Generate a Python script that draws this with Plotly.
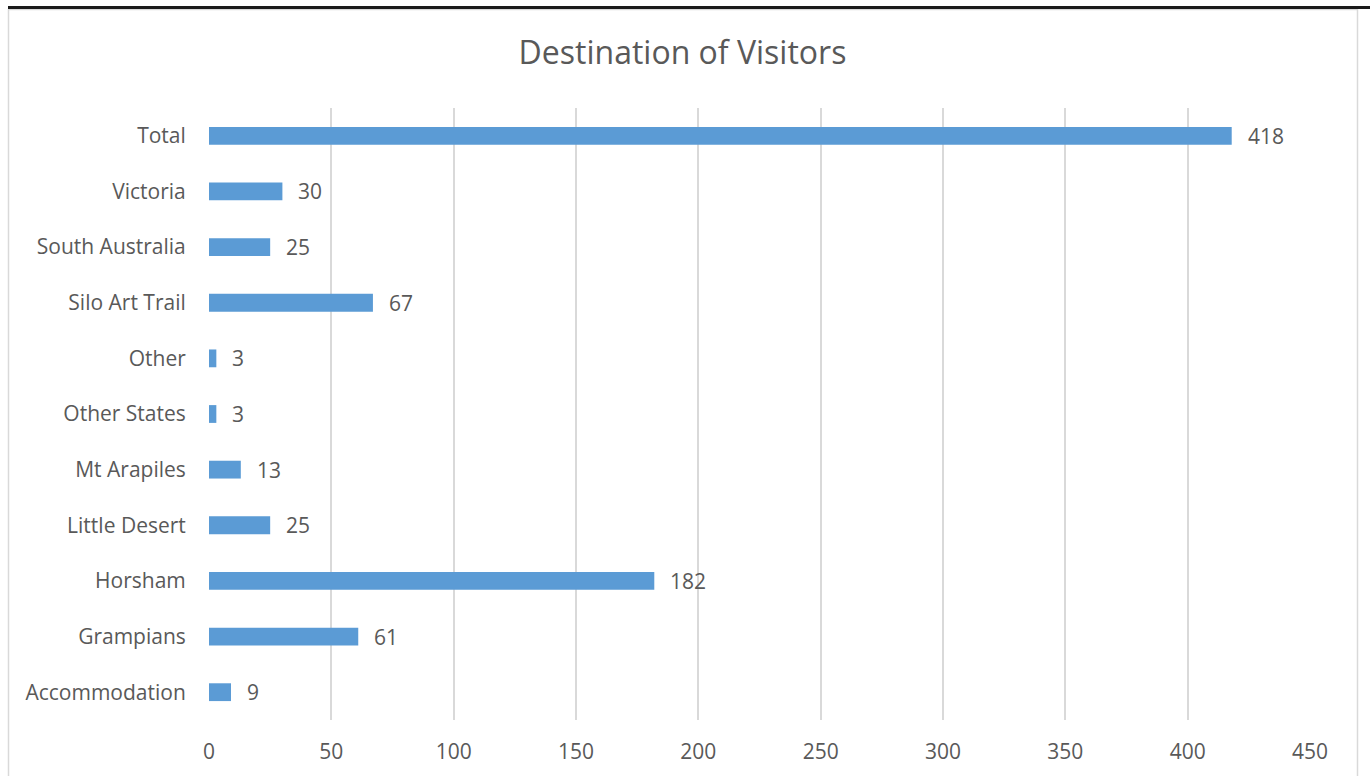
import plotly.graph_objects as go

categories = ["Accommodation", "Grampians", "Horsham", "Little Desert", "Mt Arapiles",
              "Other States", "Other", "Silo Art Trail", "South Australia", "Victoria", "Total"]
values = [9, 61, 182, 25, 13, 3, 3, 67, 25, 30, 418]
x_ticks = [0, 50, 100, 150, 200, 250, 300, 350, 400, 450]

W, H = 1370, 776
L, R, T, B = 209, 60, 108, 56
pw, ph = W - L - R, H - T - B

def px(x):
    return (x - L) / pw

def py(y):
    return (H - B - y) / ph

text_color = "#595959"
font_family = "Open Sans, Segoe UI, Calibri, sans-serif"

fig = go.Figure(go.Bar(
    y=categories, x=values, orientation="h",
    marker=dict(color="#5B9BD5", line=dict(width=0)),
    hoverinfo="x+y",
))

annotations = [
    dict(x=v, y=c, xref="x", yref="y", text=str(v), showarrow=False,
         xanchor="left", yanchor="middle", xshift=14,
         font=dict(size=21, color=text_color, family=font_family))
    for c, v in zip(categories, values)
]

fig.update_layout(
    width=W, height=H,
    margin=dict(l=L, r=R, t=T, b=B, pad=0),
    paper_bgcolor="white", plot_bgcolor="white",
    bargap=0.68,
    showlegend=False,
    title=dict(text="Destination of Visitors", x=682.5 / W, xref="container", xanchor="center",
               y=1 - 53 / H, yref="container", yanchor="middle",
               font=dict(size=32, color=text_color, family=font_family)),
    font=dict(family=font_family, color=text_color, size=21),
    xaxis=dict(range=[0, 450], tickvals=x_ticks, showgrid=True, gridcolor="#D9D9D9", gridwidth=1.5,
               zeroline=False, showline=False, ticks="outside", ticklen=13, tickcolor="rgba(0,0,0,0)",
               tickfont=dict(size=21, color=text_color), fixedrange=True, automargin=False),
    yaxis=dict(showgrid=False, showline=False, zeroline=False, ticks="outside", ticklen=18,
               range=[-0.5, len(categories) - 0.5], autorange=False,
               tickcolor="rgba(0,0,0,0)", tickfont=dict(size=21, color=text_color), fixedrange=True,
               automargin=False),
    annotations=annotations,
    shapes=[
        dict(type="rect", xref="paper", yref="paper", x0=px(8.5), x1=px(1357.5), y0=py(790), y1=py(9.5),
             line=dict(color="#D9D9D9", width=1.5), fillcolor="rgba(0,0,0,0)", layer="below"),
        dict(type="line", xref="paper", yref="paper", x0=px(8), x1=px(1372), y0=py(7.5), y1=py(7.5),
             line=dict(color="#1a1a1a", width=3)),
    ],
)

fig.write_html("out.html", config={"displayModeBar": False},
               post_script="document.body.style.margin='0px';")
